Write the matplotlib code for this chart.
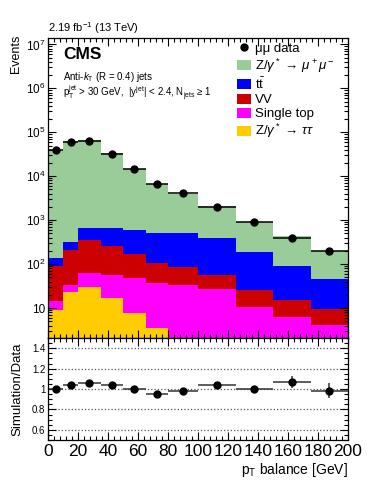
import numpy as np
import matplotlib
matplotlib.use("Agg")
import matplotlib.pyplot as plt
from matplotlib.patches import Patch
from matplotlib.lines import Line2D
from matplotlib.ticker import MultipleLocator, LogLocator, FixedLocator, FuncFormatter, NullFormatter

plt.rcParams["font.family"] = ["Liberation Sans", "DejaVu Sans"]
plt.rcParams["mathtext.fontset"] = "custom"
plt.rcParams["mathtext.rm"] = "Liberation Sans"
plt.rcParams["mathtext.it"] = "Liberation Sans:italic"
plt.rcParams["mathtext.bf"] = "Liberation Sans:bold"

# ---- data ----
edges = [0, 10, 20, 35, 50, 65, 80, 100, 125, 150, 175, 200]
data = [39000, 59300, 63300, 32800, 14500, 6820, 4050, 1990, 900, 400, 200]
ratio = [1.0, 1.043, 1.062, 1.036, 1.0, 0.954, 0.977, 1.039, 0.997, 1.069, 0.984]
ratio_err = [0.005, 0.005, 0.005, 0.006, 0.008, 0.01, 0.012, 0.015, 0.036, 0.06, 0.075]

# stacked backgrounds, bottom to top
ztautau = [9.0, 23.5, 30.5, 17.1, 7.9, 3.6, 1.2, 0.9, 0.6, 0.4, 0.3]
single_top = [5.7, 9.8, 31.0, 38.9, 41.0, 34.0, 32.1, 25.7, 10.1, 5.9, 3.8]
vv = [75, 176, 290, 205, 120, 66, 51, 29, 15, 8.9, 5.5]
ttbar = [45, 112, 295, 389, 424, 396, 416, 334, 165, 76, 37]
zmumu = [38870, 61530, 66570, 33330, 13910, 6010, 3460, 1680, 706, 337, 150]

stack = [(ztautau, "#ffcc00", r"Z/$\gamma^*$ → $\tau\tau$"),
         (single_top, "#ff00ff", "Single top"),
         (vv, "#cc0000", "VV"),
         (ttbar, "#0000ff", r"$\mathrm{t\bar{t}}$"),
         (zmumu, "#99cc99", r"Z/$\gamma^*$ → $\mu^+\mu^-$")]

edges = np.array(edges, dtype=float)
centers = 0.5 * (edges[1:] + edges[:-1])
halfw = 0.5 * (edges[1:] - edges[:-1])

W, H = 374, 484
fig = plt.figure(figsize=(W / 100, H / 100), dpi=100)
L, R = 48 / W, 348 / W
ax = fig.add_axes([L, 1 - 338 / H, R - L, 300 / H])
axr = fig.add_axes([L, 1 - 440 / H, R - L, 102 / H])

# ---- main panel ----
base = np.full(len(centers), 1e-3)
for vals, col, lab in stack:
    top = base + np.array(vals)
    ax.stairs(top, edges, baseline=base, fill=True, color=col, lw=0)
    base = top
ax.errorbar(centers, data, xerr=halfw, fmt="o", color="black", ms=5,
            elinewidth=1.1, capsize=0)

ax.set_yscale("log")
ax.set_ylim(2.08, 1.4e7)
ax.set_xlim(0, 200)
ax.yaxis.set_major_locator(FixedLocator([10 ** k for k in range(1, 8)]))
ax.yaxis.set_major_formatter(FuncFormatter(
    lambda v, p: "10" if abs(v - 10) < 1e-6 else r"$10^{%d}$" % round(np.log10(v))))
ax.yaxis.set_minor_locator(LogLocator(base=10, subs=np.arange(2, 10), numticks=50))
ax.yaxis.set_minor_formatter(NullFormatter())
ax.xaxis.set_major_locator(MultipleLocator(20))
ax.xaxis.set_minor_locator(MultipleLocator(4))
ax.tick_params(labelbottom=False)
ax.tick_params(axis="y", labelsize=8.5, pad=2)
ax.set_ylabel("Events", loc="top", fontsize=9)
ax.yaxis.set_label_coords(-0.087, 1.01)

handles = [Line2D([], [], marker="o", ls="none", color="black", ms=5)]
labels = ["μμ data"]
for vals, col, lab in stack[::-1]:
    handles.append(Patch(facecolor=col, edgecolor="none"))
    labels.append(lab)
ax.legend(handles, labels, loc="upper left", bbox_to_anchor=(0.63, 0.985),
          frameon=False, fontsize=9.5, borderpad=0, borderaxespad=0,
          handlelength=1.05, handleheight=0.8, handletextpad=0.3,
          labelspacing=0.12)

fig.text(48 / W, 1 - 32 / H, r"2.19 fb$^{-1}$ (13 TeV)", fontsize=8, va="baseline")
fig.text(63 / W, 1 - 47 / H, "CMS", fontsize=12.5, fontweight="bold", va="top")
fig.text(63 / W, 1 - 80 / H, r"Anti-$k_\mathrm{T}$ (R = 0.4) jets", fontsize=7, va="baseline")
fig.text(63 / W, 1 - 97 / H,
         r"p$_\mathrm{T}^\mathrm{jet}$ > 30 GeV,  |y$^\mathrm{jet}$| < 2.4, N$_\mathrm{jets}$ ≥ 1",
         fontsize=7, va="baseline")

# ---- ratio panel ----
axr.errorbar(centers, ratio, xerr=halfw, yerr=ratio_err, fmt="o", color="black",
             ms=5, elinewidth=1.1, ecolor="#333333", capsize=0)
axr.set_xlim(0, 200)
axr.set_ylim(0.5, 1.5)
axr.yaxis.set_major_locator(FixedLocator([0.6, 0.8, 1.0, 1.2, 1.4]))
axr.yaxis.set_major_formatter(FuncFormatter(lambda v, p: "%g" % v))
axr.yaxis.set_minor_locator(MultipleLocator(0.05))
axr.xaxis.set_major_locator(MultipleLocator(20))
axr.xaxis.set_minor_locator(MultipleLocator(4))
axr.yaxis.grid(True, ls=":", color="#555555", lw=0.9)
axr.tick_params(axis="y", labelsize=7, pad=2)
axr.tick_params(axis="x", labelsize=12.5, pad=3)
axr.set_ylabel("Simulation/Data", fontsize=9.5)
axr.yaxis.set_label_coords(-0.083, 0.5)
axr.set_xlabel(r"p$_\mathrm{T}$ balance [GeV]", loc="right", fontsize=10, labelpad=1)

for a in (ax, axr):
    a.tick_params(which="both", direction="in", top=True, right=True)
    a.tick_params(which="major", length=6, width=0.8)
    a.tick_params(which="minor", length=3, width=0.8)
    for s in a.spines.values():
        s.set_linewidth(0.9)

fig.savefig("out.png", dpi=100)
